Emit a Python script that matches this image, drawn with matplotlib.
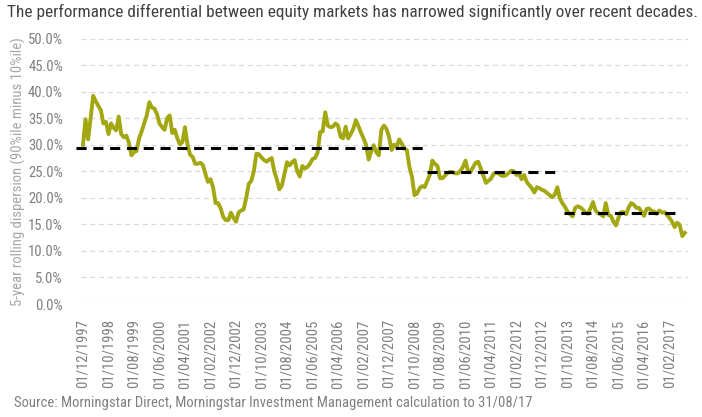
import matplotlib
matplotlib.use('Agg')
import matplotlib.pyplot as plt
import pandas as pd
from matplotlib import font_manager
from matplotlib.ticker import PercentFormatter

# 5-year rolling dispersion (90%ile minus 10%ile), monthly, in %
dispersion = [
    30.0, 34.8, 31.0, 35.0, 39.2, 38.2, 37.3, 36.5, 34.0, 34.3,
    32.0, 34.0, 33.2, 32.7, 35.3, 32.0, 31.4, 31.7, 30.4, 28.0,
    28.6, 28.8, 31.2, 32.5, 34.0, 35.5, 38.0, 37.0, 36.8, 35.8,
    34.0, 33.3, 32.8, 35.0, 35.5, 32.2, 32.8, 31.2, 30.1, 30.5,
    33.3, 30.0, 28.1, 27.7, 26.4, 26.4, 26.6, 26.2, 24.5, 23.0,
    23.5, 22.0, 19.0, 19.0, 18.0, 16.4, 15.8, 15.8, 17.2, 16.2,
    15.5, 17.2, 17.6, 17.8, 20.0, 22.6, 23.2, 25.0, 28.3, 28.2,
    27.6, 27.1, 26.8, 27.2, 27.5, 25.0, 23.5, 21.6, 22.3, 24.5,
    26.7, 26.1, 26.7, 27.1, 25.0, 24.0, 26.0, 25.5, 25.8, 26.4,
    27.3, 27.5, 28.5, 32.4, 32.5, 36.1, 33.6, 33.3, 33.4, 34.0,
    33.6, 31.5, 31.2, 33.4, 31.2, 32.0, 33.0, 34.6, 33.5, 32.3,
    31.2, 30.0, 27.2, 28.7, 29.9, 28.6, 28.0, 32.8, 33.6, 33.0,
    31.5, 29.0, 30.0, 29.6, 31.0, 30.2, 29.3, 29.0, 25.8, 24.0,
    20.5, 20.8, 21.8, 22.2, 22.0, 23.2, 24.3, 27.0, 26.4, 26.0,
    23.7, 23.7, 24.2, 24.7, 24.9, 24.8, 24.6, 24.6, 25.1, 25.8,
    27.0, 25.0, 24.9, 25.8, 26.6, 26.8, 25.5, 24.2, 22.8, 23.2,
    23.6, 24.5, 24.7, 24.6, 24.2, 24.1, 24.3, 24.7, 25.1, 25.0,
    24.3, 24.5, 23.5, 24.3, 23.0, 22.4, 21.8, 21.0, 22.0, 21.8,
    21.5, 21.3, 20.9, 20.5, 20.1, 20.6, 22.0, 19.9, 19.0, 18.3,
    17.4, 16.9, 16.5, 18.1, 18.4, 18.2, 17.8, 17.2, 17.0, 18.0,
    19.2, 17.6, 17.1, 16.9, 16.5, 19.0, 16.8, 16.6, 15.5, 14.8,
    16.3, 17.3, 17.3, 16.9, 18.2, 19.0, 18.7, 18.1, 18.1, 17.4,
    16.6, 17.9, 18.0, 17.5, 17.4, 17.0, 17.6, 17.2, 17.3, 16.8,
    16.2, 15.5, 14.5, 15.3, 14.9, 12.8, 13.4,
]

# period averages: (start month, end month, level in %)
avg_starts = [-2.7, 135.0, 188.5]
avg_ends = [133.5, 187.6, 234.2]
avg_levels = [29.3, 24.9, 17.2]

months = pd.date_range('1997-12-01', periods=len(dispersion), freq='MS')
tick_pos = list(range(0, len(dispersion), 10))
tick_labels = [months[i].strftime('%d/%m/%Y') for i in tick_pos]

title = 'The performance differential between equity markets has narrowed significantly over recent decades.'
source = 'Source: Morningstar Direct, Morningstar Investment Management calculation to 31/08/17'

# condensed font if one is installed
installed = {f.name for f in font_manager.fontManager.ttflist}
family = 'DejaVu Sans'
for cand in ['Liberation Sans Narrow', 'DejaVu Sans Condensed', 'Roboto Condensed', 'Noto Sans Condensed']:
    if cand in installed:
        family = cand
        break
plt.rcParams['font.family'] = [family, 'DejaVu Sans']

fig = plt.figure(figsize=(7.02, 4.17), dpi=100)
W, H = 702, 417
ax = fig.add_axes([81 / W, 1 - 304 / H, (688 - 81) / W, (304 - 38.5) / H])

ax.plot(range(len(dispersion)), dispersion, color='#a3a712', lw=2.8,
        solid_joinstyle='round', zorder=3)
for s, e, v in zip(avg_starts, avg_ends, avg_levels):
    ax.plot([s, e], [v, v], color='black', lw=2.2, dashes=(3.3, 2.2),
            clip_on=False, zorder=4)

ax.set_xlim(-0.78, 237.25)
ax.set_ylim(0, 50)
ax.set_yticks(range(0, 51, 5))
ax.yaxis.set_major_formatter(PercentFormatter(decimals=1))
ax.set_xticks(tick_pos)
ax.set_xticklabels(tick_labels, rotation=90)

ax.grid(axis='y', color='#d9d9d9', lw=0.9, dashes=(4, 3))
ax.set_axisbelow(True)
for sp in ax.spines.values():
    sp.set_visible(False)
ax.tick_params(length=0, colors='#7f7f7f', labelsize=10.5)
ax.tick_params(axis='y', pad=13)
ax.tick_params(axis='x', pad=11)

ax.set_ylabel('5-year rolling dispersion (90%ile minus 10%ile)', color='#a6a6a6',
              fontsize=10.5, labelpad=1.7)
fig.text(7 / W, 1 - 12 / H, title, color='#404040', fontsize=12.4, va='center')
fig.text(14 / W, 1 - 403 / H, source, color='#808080', fontsize=10.5, va='center')

fig.savefig('out.png', dpi=100)
